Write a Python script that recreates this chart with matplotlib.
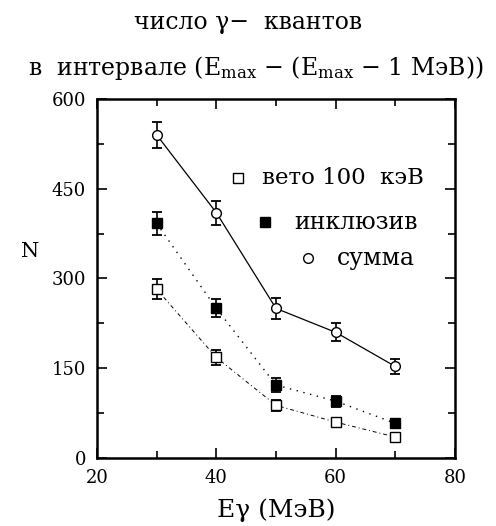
import matplotlib
matplotlib.use("Agg")
import matplotlib.pyplot as plt
from matplotlib.ticker import MultipleLocator

plt.rcParams['font.family'] = ['DejaVu Serif']
plt.rcParams['mathtext.fontset'] = 'dejavuserif'

# energies, MeV
energy = [30, 40, 50, 60, 70]

# counts
veto = [282, 168, 88, 60, 35]
veto_err = [17, 12, 9, 7, 6]
incl = [392, 250, 122, 95, 58]
incl_err = [19, 15, 12, 9, 7]
total = [540, 410, 250, 210, 153]
total_err = [22, 20, 17, 15, 12]

labels = ['вето 100  кэВ', 'инклюзив', 'сумма']

fig = plt.figure(figsize=(4.96, 5.26), dpi=100)
ax = fig.add_axes([0.1956, 0.1293, 0.7217, 0.6825])

ax.plot(energy, total, '-', color='k', lw=0.9)
ax.plot(energy, incl, linestyle=(0, (1, 4)), color='k', lw=1.0)
ax.plot(energy, veto, linestyle=(0, (4, 3, 1, 3)), color='k', lw=0.7)

ax.errorbar(energy, total, yerr=total_err, fmt='o', mfc='white', mec='k',
            ms=7, ecolor='k', elinewidth=1.2, capsize=3.5, capthick=1.3)
ax.errorbar(energy, incl, yerr=incl_err, fmt='s', mfc='k', mec='k',
            ms=6.5, ecolor='k', elinewidth=1.2, capsize=3.5, capthick=1.3)
ax.errorbar(energy, veto, yerr=veto_err, fmt='s', mfc='white', mec='k',
            ms=6.5, ecolor='k', elinewidth=1.2, capsize=3.5, capthick=1.3)

ax.set_xlim(20, 80)
ax.set_ylim(0, 600)
ax.xaxis.set_major_locator(MultipleLocator(20))
ax.xaxis.set_minor_locator(MultipleLocator(10))
ax.yaxis.set_major_locator(MultipleLocator(150))
ax.yaxis.set_minor_locator(MultipleLocator(75))
ax.tick_params(which='both', direction='in', top=True, right=True,
               labelsize=13, pad=8)
ax.tick_params(which='major', length=7, width=1.2)
ax.tick_params(which='minor', length=5, width=1.2)
for s in ax.spines.values():
    s.set_linewidth(1.8)

# hand-placed legend, as in the original
tr = ax.transAxes
ax.plot([0.394], [0.780], 's', mfc='white', mec='k', ms=7, transform=tr)
ax.plot([0.469], [0.657], 's', mfc='k', mec='k', ms=7, transform=tr)
ax.plot([0.589], [0.557], 'o', mfc='white', mec='k', ms=7, transform=tr)
ax.text(0.462, 0.780, labels[0], transform=tr, fontsize=16.5, va='center')
ax.text(0.551, 0.657, labels[1], transform=tr, fontsize=17, va='center')
ax.text(0.671, 0.557, labels[2], transform=tr, fontsize=17, va='center')

fig.text(0.50, 0.958, 'число γ−  квантов', ha='center', va='center', fontsize=17)
fig.text(0.515, 0.871, 'в  интервале ($\\mathrm{E_{max}}$ − ($\\mathrm{E_{max}}$ − 1 МэВ))',
         ha='center', va='center', fontsize=17)
fig.text(0.06, 0.521, 'N', ha='center', va='center', fontsize=15)
fig.text(0.556, 0.030, 'Eγ (МэВ)', ha='center', va='center', fontsize=18)

fig.savefig('out.png', dpi=100)
